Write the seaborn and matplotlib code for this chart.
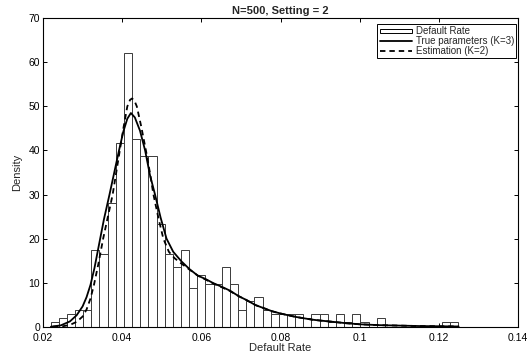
import numpy as np
import pandas as pd
import matplotlib
matplotlib.use("Agg")
import matplotlib.pyplot as plt
import seaborn as sns
from matplotlib.patches import Patch
from matplotlib.lines import Line2D

# ---- data ----
n_obs = 500
data_min = 0.0219
data_max = 0.1249
n_bins = 50
bin_counts = [1, 2, 3, 4, 4, 18, 17, 29, 43, 64,
              44, 40, 40, 24, 17, 14, 18, 9, 12, 10,
              10, 14, 10, 4, 6, 7, 4, 3, 3, 3,
              3, 2, 3, 3, 1, 3, 1, 3, 1, 0,
              2, 0, 0, 0, 0, 0, 0, 0, 1, 1]

true_x = [0.0220, 0.0245, 0.0268, 0.0285, 0.0300, 0.0310, 0.0320, 0.0330, 0.0341, 0.0354,
          0.0368, 0.0380, 0.0392, 0.0403, 0.0413, 0.0422, 0.0432, 0.0445, 0.0458, 0.0470,
          0.0483, 0.0497, 0.0512, 0.0529, 0.0550, 0.0571, 0.0591, 0.0611, 0.0630, 0.0653,
          0.0672, 0.0695, 0.0713, 0.0737, 0.0755, 0.0779, 0.0800, 0.0819, 0.0840, 0.0860,
          0.0880, 0.0900, 0.0933, 0.0965, 0.1000, 0.1050, 0.1100, 0.1150, 0.1200, 0.1250]
true_y = [0.0, 0.3, 1.2, 2.6, 4.6, 6.7, 9.5, 13.3, 18.4, 24.4,
          30.0, 35.0, 40.0, 44.3, 47.2, 48.5, 47.5, 44.5, 40.0, 34.5,
          30.0, 24.8, 20.0, 17.0, 14.8, 13.0, 11.6, 10.8, 9.9, 9.0,
          8.2, 6.9, 6.1, 4.9, 4.3, 3.5, 3.0, 2.6, 2.2, 1.9,
          1.6, 1.4, 1.1, 0.8, 0.55, 0.35, 0.25, 0.15, 0.1, 0.05]

est_x = [0.0225, 0.0250, 0.0268, 0.0285, 0.0300, 0.0310, 0.0320, 0.0329, 0.0340, 0.0352,
         0.0364, 0.0376, 0.0385, 0.0394, 0.0404, 0.0413, 0.0420, 0.0425, 0.0431, 0.0437,
         0.0448, 0.0460, 0.0470, 0.0479, 0.0492, 0.0504, 0.0518, 0.0533, 0.0550, 0.0571,
         0.0591, 0.0611, 0.0630, 0.0653, 0.0672, 0.0695, 0.0713, 0.0737, 0.0755, 0.0779,
         0.0800, 0.0819, 0.0840, 0.0860, 0.0880, 0.0900, 0.0933, 0.0965, 0.1000, 0.1050,
         0.1100, 0.1150, 0.1200, 0.1250]
est_y = [0.0, 0.1, 0.4, 1.1, 2.3, 3.9, 6.4, 9.6, 14.3, 20.0,
         25.0, 30.0, 35.0, 40.0, 45.5, 50.0, 51.5, 51.8, 51.3, 50.0,
         45.5, 40.0, 35.0, 30.0, 24.5, 20.0, 17.0, 15.5, 14.3, 12.9,
         11.6, 10.7, 9.8, 8.9, 8.1, 6.9, 6.1, 4.9, 4.3, 3.5,
         3.0, 2.6, 2.2, 1.9, 1.6, 1.4, 1.1, 0.8, 0.55, 0.35,
         0.25, 0.15, 0.1, 0.05]

x_ticks = [0.02, 0.04, 0.06, 0.08, 0.10, 0.12, 0.14]
x_tick_labels = ["0.02", "0.04", "0.06", "0.08", "0.1", "0.12", "0.14"]
y_ticks = [0, 10, 20, 30, 40, 50, 60, 70]

title = "N=500, Setting = 2"
legend_labels = ["Default Rate", "True parameters (K=3)", "Estimation (K=2)"]

# ---- plotting ----
sns.set_style("ticks")
plt.rcParams['font.family'] = ['Liberation Sans', 'DejaVu Sans']

fig = plt.figure(figsize=(5.32, 3.54), dpi=100)
ax = fig.add_axes([43 / 532, 1 - 326.7 / 354, (518 - 43) / 532, (326.7 - 18.3) / 354])

edges = [float(e) for e in np.linspace(data_min, data_max, n_bins + 1)]
centers = [(edges[i] + edges[i + 1]) / 2 for i in range(n_bins)]
hist_df = pd.DataFrame({"rate": centers, "count": bin_counts})

sns.histplot(data=hist_df, x="rate", weights="count", bins=edges, stat="density",
             color="white", edgecolor="#3a3a3a", linewidth=0.7, alpha=1.0, ax=ax)

dash = (0, (3.0, 2.2))
sns.lineplot(x=true_x, y=true_y, color="black", linewidth=1.3, ax=ax)
sns.lineplot(x=est_x, y=est_y, color="black", linewidth=1.3, linestyle=dash, ax=ax)

ax.set_xlim(0.02, 0.14)
ax.set_ylim(0, 70)
ax.set_xticks(x_ticks)
ax.set_xticklabels(x_tick_labels)
ax.set_yticks(y_ticks)
ax.tick_params(direction="in", top=True, right=True, length=3, width=0.7,
               labelsize=7.5, colors="black")
ax.tick_params(axis="x", pad=4.5)
ax.tick_params(axis="y", pad=2)
for s in ax.spines.values():
    s.set_visible(True)
    s.set_linewidth(0.8)
    s.set_color("black")

ax.set_xlabel("Default Rate", fontsize=8, labelpad=0)
ax.set_ylabel("Density", fontsize=8, labelpad=5)
ax.set_title(title, fontsize=8, fontweight="bold", pad=3)

handles = [Patch(facecolor="white", edgecolor="black", linewidth=0.7),
           Line2D([], [], color="black", linewidth=1.3),
           Line2D([], [], color="black", linewidth=1.3, linestyle=dash)]
leg = ax.legend(handles, legend_labels, loc="upper right",
                bbox_to_anchor=(0.9968, 0.9815), fontsize=7,
                frameon=True, fancybox=False, framealpha=1, edgecolor="black",
                handlelength=3.3, handleheight=0.35, labelspacing=-0.02,
                borderpad=0.25, borderaxespad=0, handletextpad=0.4)
leg.get_frame().set_linewidth(0.7)

fig.savefig("out.png", dpi=100)
